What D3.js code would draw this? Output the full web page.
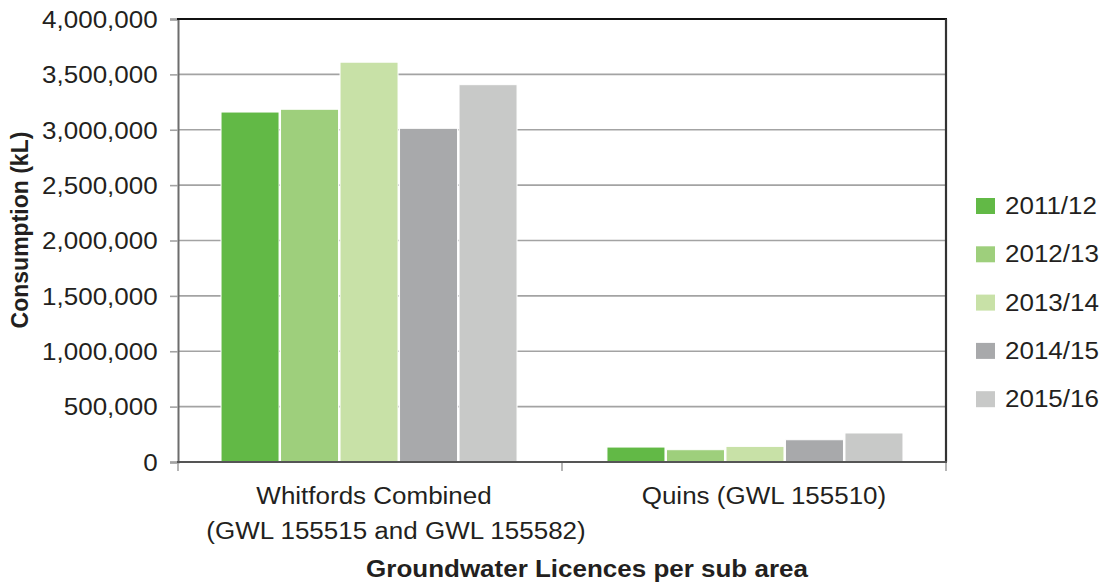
<!DOCTYPE html>
<html>
<head>
<meta charset="utf-8">
<script src="https://cdn.jsdelivr.net/npm/d3@7"></script>
<style>
  html, body { margin: 0; padding: 0; background: #fff; }
  svg { display: block; font-family: "Liberation Sans", Arial, Helvetica, sans-serif; }
</style>
</head>
<body>
<svg id="chart" width="1105" height="582"></svg>
<script>
// Sub areas along the x axis
const categories = ["Whitfords Combined", "Quins (GWL 155510)"];
// Label lines drawn under each sub area
const categoryLines = [
  ["Whitfords Combined", "(GWL 155515 and GWL 155582)"],
  ["Quins (GWL 155510)"]
];
// Financial years (legend order)
const seasons = ["2011/12", "2012/13", "2013/14", "2014/15", "2015/16"];
// Consumption (kL) per year, one array per sub area
const whitfordsValues = [3160000, 3185000, 3610000, 3013000, 3407000];
const quinsValues = [135000, 111000, 141000, 201000, 262000];
// Y axis ticks
const yTicks = [0, 500000, 1000000, 1500000, 2000000, 2500000, 3000000, 3500000, 4000000];

const seasonColors = ["#62b946", "#9ecf7c", "#c8e1a7", "#a8a9ab", "#c8c9c8"];

const valuesBySub = [whitfordsValues, quinsValues];
const rows = categories.map((c, i) => ({
  category: c,
  lines: categoryLines[i],
  values: seasons.map((s, j) => ({ season: s, value: valuesBySub[i][j] }))
}));

const svg = d3.select("#chart");
const plotLeft = 178, plotRight = 946, plotTop = 19, plotBottom = 462;
const textColor = "#231f20";
const stretch = "scale(1.13,1)";

const y = d3.scaleLinear().domain([0, 4000000]).range([plotBottom, plotTop]);
const x0 = d3.scaleBand().domain(categories).range([plotLeft, plotRight])
  .paddingInner(0.233).paddingOuter(0.1115);
const x1 = d3.scaleBand().domain(seasons).range([0, x0.bandwidth()]).paddingInner(0.025);
const color = d3.scaleOrdinal().domain(seasons).range(seasonColors);

// Horizontal gridlines
svg.append("g")
  .selectAll("line")
  .data(yTicks.filter(t => t > 0 && t < 4000000))
  .join("line")
  .attr("x1", plotLeft).attr("x2", plotRight)
  .attr("y1", d => y(d)).attr("y2", d => y(d))
  .attr("stroke", "#a3a3a3").attr("stroke-width", 1.6);

// Bars
svg.append("g")
  .selectAll("g")
  .data(rows)
  .join("g")
  .attr("transform", d => `translate(${x0(d.category)},0)`)
  .selectAll("rect")
  .data(d => d.values)
  .join("rect")
  .attr("x", d => x1(d.season))
  .attr("width", x1.bandwidth())
  .attr("y", d => y(d.value))
  .attr("height", d => y(0) - y(d.value))
  .attr("fill", d => color(d.season))
  .attr("stroke", "#ffffff").attr("stroke-width", 1);

// Y axis
const yAxis = svg.append("g")
  .attr("transform", `translate(${plotLeft},0)`)
  .call(d3.axisLeft(y).tickValues(yTicks).tickFormat(d3.format(",")).tickSize(8).tickPadding(10));
yAxis.select(".domain").attr("stroke", "#6d6d6d").attr("stroke-width", 2);
yAxis.selectAll(".tick line").attr("stroke", "#a3a3a3").attr("stroke-width", 1.6);
yAxis.selectAll(".tick text")
  .attr("fill", textColor)
  .style("font-size", "23px")
  .attr("dy", "0.36em")
  .attr("transform", stretch);

// Frame: top and right edges
svg.append("line").attr("x1", plotLeft - 1).attr("x2", plotRight + 1).attr("y1", plotTop).attr("y2", plotTop)
  .attr("stroke", "#111").attr("stroke-width", 2);
svg.append("line").attr("x1", plotRight).attr("x2", plotRight).attr("y1", plotTop).attr("y2", plotBottom)
  .attr("stroke", "#333").attr("stroke-width", 2.2);

// Category boundary ticks
const step = (plotRight - plotLeft) / categories.length;
svg.append("g")
  .selectAll("line")
  .data(d3.range(categories.length + 1))
  .join("line")
  .attr("x1", i => plotLeft + i * step).attr("x2", i => plotLeft + i * step)
  .attr("y1", plotBottom).attr("y2", plotBottom + 9)
  .attr("stroke", "#a3a3a3").attr("stroke-width", 1.6);

// X axis baseline
svg.append("line").attr("x1", plotLeft - 1).attr("x2", plotRight + 1).attr("y1", plotBottom).attr("y2", plotBottom)
  .attr("stroke", "#555").attr("stroke-width", 2);

// Category labels
const labelShift = [[5, 27], [9]];
const labelGroups = svg.append("g")
  .selectAll("g")
  .data(rows)
  .join("g");
labelGroups.each(function (d, i) {
  const cx = x0(d.category) + x0.bandwidth() / 2;
  d3.select(this).selectAll("text")
    .data(d.lines)
    .join("text")
    .attr("text-anchor", "middle")
    .attr("fill", textColor)
    .style("font-size", "23px")
    .attr("transform", (t, k) => `translate(${cx + labelShift[i][k]},${504 + k * 35}) ${stretch}`)
    .text(t => t);
});

// Axis titles
svg.append("text")
  .attr("transform", `translate(587,577) ${stretch}`)
  .attr("text-anchor", "middle")
  .attr("fill", textColor)
  .style("font-size", "23px").style("font-weight", "bold")
  .text("Groundwater Licences per sub area");

svg.append("text")
  .attr("transform", "translate(28,230) rotate(-90)")
  .attr("text-anchor", "middle")
  .attr("fill", textColor)
  .style("font-size", "23px").style("font-weight", "bold")
  .text("Consumption (kL)");

// Legend
const legend = svg.append("g")
  .selectAll("g")
  .data(seasons)
  .join("g")
  .attr("transform", (d, i) => `translate(976,${206 + i * 48.3})`);
legend.append("rect")
  .attr("x", 0).attr("y", -8).attr("width", 19).attr("height", 16)
  .attr("fill", d => color(d));
legend.append("text")
  .attr("transform", `translate(29,8) ${stretch}`)
  .attr("fill", textColor)
  .style("font-size", "23px")
  .text(d => d);
</script>
</body>
</html>
